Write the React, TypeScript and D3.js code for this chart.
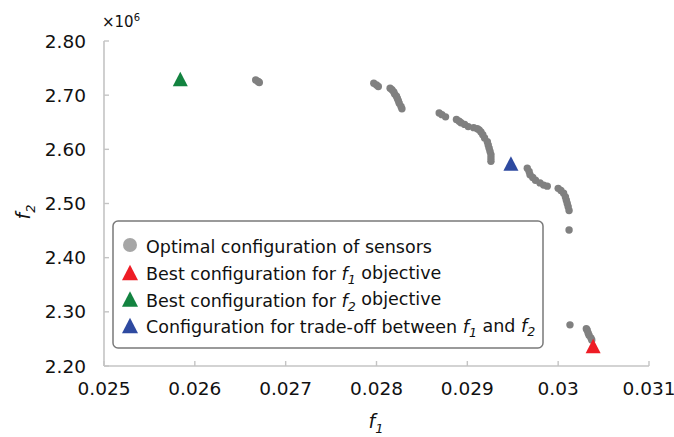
import React from "react";
import * as d3 from "d3";

const xTicks = [0.025, 0.026, 0.027, 0.028, 0.029, 0.03, 0.031];
const xTickLabels = ["0.025", "0.026", "0.027", "0.028", "0.029", "0.03", "0.031"];
const yTicks = [2.2, 2.3, 2.4, 2.5, 2.6, 2.7, 2.8];
const yTickLabels = ["2.20", "2.30", "2.40", "2.50", "2.60", "2.70", "2.80"];

// Pareto front: optimal sensor configurations (f1, f2 in units of 1e6)
const paretoF1 = [
  0.02667, 0.02669, 0.0267, 0.02671,
  0.02797, 0.028, 0.02802, 0.02815, 0.02817, 0.02819, 0.0282, 0.02822, 0.02823, 0.02824, 0.02825, 0.02827, 0.02828,
  0.02869, 0.02872, 0.02876, 0.02888, 0.02891, 0.02893, 0.02897, 0.02901, 0.02907, 0.02911, 0.02913, 0.02915,
  0.02917, 0.02919, 0.02922, 0.02923, 0.02924, 0.02925, 0.02926, 0.02926, 0.02926,
  0.02966, 0.02968, 0.02969, 0.02972, 0.02975, 0.0298, 0.02984, 0.02988, 0.03, 0.03003, 0.03006, 0.03008,
  0.03009, 0.0301, 0.03011, 0.03012,
  0.03012,
  0.03013, 0.03031, 0.03032, 0.03033, 0.03034, 0.03036, 0.03037,
];
const paretoF2 = [
  2.728, 2.726, 2.725, 2.7235,
  2.722, 2.719, 2.716, 2.713, 2.71, 2.706, 2.702, 2.698, 2.694, 2.69, 2.685, 2.679, 2.675,
  2.667, 2.664, 2.66, 2.655, 2.652, 2.649, 2.646, 2.642, 2.64, 2.638, 2.636, 2.632,
  2.627, 2.621, 2.614, 2.608, 2.602, 2.596, 2.59, 2.584, 2.578,
  2.565, 2.559, 2.553, 2.548, 2.543, 2.538, 2.534, 2.532, 2.528, 2.524, 2.519, 2.512,
  2.506, 2.5, 2.494, 2.487,
  2.451,
  2.276, 2.269, 2.266, 2.261, 2.257, 2.252, 2.248,
];

const bestF1 = [0.030385, 2.236];
const bestF2 = [0.02584, 2.729];
const tradeOff = [0.02948, 2.573];

const GREY_DOT = "#808080";
const RED = "#ee1c25";
const GREEN = "#138340";
const BLUE = "#2e4aa0";
const AXIS = "#c4c4c4";
const FONT = "DejaVu Sans, Verdana, sans-serif";

const W = 674;
const H = 437;
const plotLeft = 104;
const plotRight = 649;
const plotTop = 41;
const plotBottom = 366;

function triPath(cx: number, cy: number, s: number) {
  const h = s * 0.9;
  return `M${cx},${cy - h / 2 - 1}L${cx + s / 2},${cy + h / 2}L${cx - s / 2},${cy + h / 2}Z`;
}

function FSub({ n }: { n: string }) {
  return (
    <>
      <tspan fontStyle="italic">f</tspan>
      <tspan fontStyle="italic" fontSize="0.72em" dy="0.3em">{n}</tspan>
      <tspan dy="-0.3em"> </tspan>
    </>
  );
}

export default function App() {
  const x = d3.scaleLinear().domain([0.025, 0.031]).range([plotLeft, plotRight]);
  const y = d3.scaleLinear().domain([2.2, 2.8]).range([plotBottom, plotTop]);

  const pts = paretoF1.map((v, i) => [v, paretoF2[i]]);

  const legendX = 113;
  const legendY = 221;
  const legendW = 430;
  const legendH = 127;
  const rowY = [247, 274, 300.5, 327];
  const markerX = 130;
  const textX = 146;
  const fs = 17.5;

  return (
    <svg
      width={W}
      height={H}
      style={{ position: "absolute", left: 0, top: 0, background: "#fff" }}
      fontFamily={FONT}
    >
      {/* axes */}
      <line x1={plotLeft} x2={plotLeft} y1={plotTop} y2={plotBottom} stroke={AXIS} strokeWidth={1.6} />
      <line x1={plotLeft} x2={plotRight} y1={plotBottom} y2={plotBottom} stroke={AXIS} strokeWidth={1.6} />
      {yTicks.map((t, i) => (
        <g key={"y" + i}>
          <line x1={plotLeft} x2={plotLeft + 5} y1={y(t)} y2={y(t)} stroke={AXIS} strokeWidth={1.4} />
          <text x={86} y={y(t)} dy="0.36em" textAnchor="end" fontSize={18.5} fill="#111">
            {yTickLabels[i]}
          </text>
        </g>
      ))}
      {xTicks.map((t, i) => (
        <g key={"x" + i}>
          <line x1={x(t)} x2={x(t)} y1={plotBottom} y2={plotBottom - 5} stroke={AXIS} strokeWidth={1.4} />
          <text x={x(t)} y={395} textAnchor="middle" fontSize={18.5} fill="#111">
            {xTickLabels[i]}
          </text>
        </g>
      ))}
      <text x={102} y={27} fontSize={15} fill="#111">
        ×10<tspan fontSize={10} dy="-6">6</tspan>
      </text>

      {/* axis titles */}
      <text x={376} y={428} textAnchor="middle" fontSize={19} fill="#111">
        <tspan fontStyle="italic">f</tspan>
        <tspan fontStyle="italic" fontSize={13} dy={5}>1</tspan>
      </text>
      <text transform="translate(30,212) rotate(-90)" textAnchor="middle" fontSize={19} fill="#111">
        <tspan fontStyle="italic">f</tspan>
        <tspan fontStyle="italic" fontSize={13} dy={5}>2</tspan>
      </text>

      {/* pareto points */}
      {pts.map((p, i) => (
        <circle key={i} cx={x(p[0])} cy={y(p[1])} r={3.7} fill={GREY_DOT} />
      ))}
      <path d={triPath(x(bestF2[0]), y(bestF2[1]), 15)} fill={GREEN} />
      <path d={triPath(x(tradeOff[0]), y(tradeOff[1]), 15)} fill={BLUE} />
      <path d={triPath(x(bestF1[0]), y(bestF1[1]), 15)} fill={RED} />

      {/* legend */}
      <rect
        x={legendX}
        y={legendY}
        width={legendW}
        height={legendH}
        rx={5}
        fill="#fff"
        stroke="#7a7a7a"
        strokeWidth={1.5}
      />
      <circle cx={markerX} cy={rowY[0] - 2} r={7} fill="#a6a6a6" />
      <path d={triPath(markerX, rowY[1] - 1, 16)} fill={RED} />
      <path d={triPath(markerX, rowY[2] - 1, 16)} fill={GREEN} />
      <path d={triPath(markerX, rowY[3] - 1, 16)} fill={BLUE} />
      <text x={textX} y={rowY[0]} dy="0.36em" fontSize={fs} fill="#111">
        Optimal configuration of sensors
      </text>
      <text x={textX} y={rowY[1]} dy="0.36em" fontSize={fs} fill="#111">
        Best configuration for <FSub n="1" />objective
      </text>
      <text x={textX} y={rowY[2]} dy="0.36em" fontSize={fs} fill="#111">
        Best configuration for <FSub n="2" />objective
      </text>
      <text x={textX} y={rowY[3]} dy="0.36em" fontSize={fs} fill="#111">
        Configuration for trade-off between <FSub n="1" />and <tspan fontStyle="italic">f</tspan>
        <tspan fontStyle="italic" fontSize="0.72em" dy="0.3em">2</tspan>
      </text>
    </svg>
  );
}
